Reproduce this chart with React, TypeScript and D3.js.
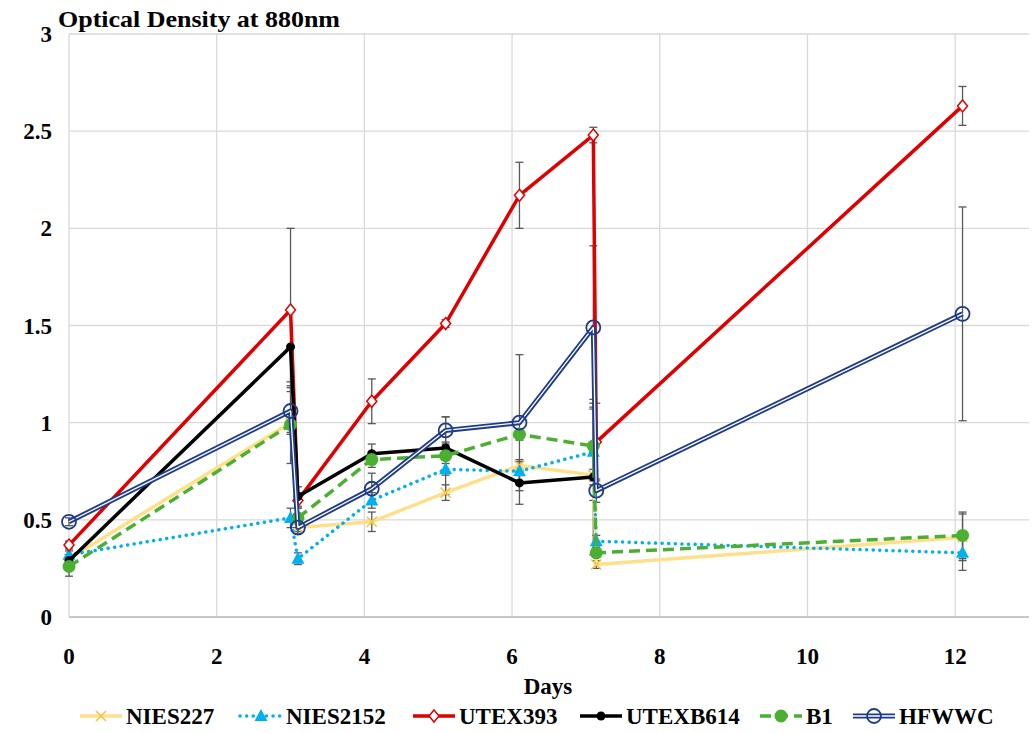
import React from "react";
import * as d3 from "d3";

const days = [0, 3, 3.1, 4.1, 5.1, 6.1, 7.1, 7.14, 12.1];

const nies227 = [0.3, 1.0, 0.46, 0.49, 0.64, 0.78, 0.73, 0.27, 0.41];
const nies227Err = [0.02, 0.05, 0.02, 0.05, 0.04, 0.03, 0.03, 0.02, 0.12];
const nies2152 = [0.32, 0.51, 0.3, 0.6, 0.76, 0.75, 0.85, 0.39, 0.33];
const nies2152Err = [0.02, 0.05, 0.03, 0.04, 0.03, 0.05, 0.25, 0.03, 0.09];
const utex393 = [0.37, 1.58, 0.6, 1.11, 1.51, 2.17, 2.48, 0.9, 2.63];
const utex393Err = [0.02, 0.42, 0.04, 0.115, 0.02, 0.17, 0.04, 0.2, 0.1];
const utexb614 = [0.29, 1.39, 0.62, 0.84, 0.87, 0.69, 0.72];
const utexb614Err = [0.02, 0.18, 0.05, 0.05, 0.03, 0.11, 0.4];
const b1 = [0.26, 0.99, 0.51, 0.81, 0.83, 0.94, 0.88, 0.33, 0.42];
const b1Err = [0.05, 0.2, 0.05, 0.04, 0.2, 0.03, 0.2, 0.04, 0.12];
const hfwwc = [0.49, 1.06, 0.46, 0.66, 0.96, 1.0, 1.49, 0.65, 1.56];
const hfwwcErr = [0.02, 0.12, 0.03, 0.08, 0.07, 0.35, 0.42, 0.06, 0.55];

const xTicks = [0, 2, 4, 6, 8, 10, 12];
const yTicks = [0, 0.5, 1, 1.5, 2, 2.5, 3];

type Series = {
  name: string;
  values: number[];
  err: number[];
  color: string;
  width: number;
  dash?: string;
  marker: "x" | "tri" | "diamond" | "dot" | "circle" | "ring";
  double?: boolean;
};

const series: Series[] = [
  { name: "NIES227", values: nies227, err: nies227Err, color: "#FFE08A", width: 3.5, marker: "x" },
  { name: "NIES2152", values: nies2152, err: nies2152Err, color: "#00B0F0", width: 3.5, dash: "0.1 6.5", marker: "tri" },
  { name: "UTEX393", values: utex393, err: utex393Err, color: "#E00000", width: 3.5, marker: "diamond" },
  { name: "UTEXB614", values: utexb614, err: utexb614Err, color: "#000000", width: 3.5, marker: "dot" },
  { name: "B1", values: b1, err: b1Err, color: "#4BAF32", width: 3.5, dash: "11 6", marker: "circle" },
  { name: "HFWWC", values: hfwwc, err: hfwwcErr, color: "#1F3C88", width: 5, marker: "ring", double: true },
];

const W = 1035;
const H = 733;
const x = d3.scaleLinear().domain([0, 13]).range([69, 1029]);
const y = d3.scaleLinear().domain([0, 3]).range([617, 34]);
const font = "'Liberation Serif', 'Times New Roman', serif";

function Marker({ s, cx, cy }: { s: Series; cx: number; cy: number }) {
  switch (s.marker) {
    case "x":
      return (
        <g stroke="#F5C242" strokeWidth={1.5}>
          <line x1={cx - 5} y1={cy - 5} x2={cx + 5} y2={cy + 5} />
          <line x1={cx - 5} y1={cy + 5} x2={cx + 5} y2={cy - 5} />
        </g>
      );
    case "tri":
      return <path d={`M${cx},${cy - 7}L${cx + 6.5},${cy + 5}L${cx - 6.5},${cy + 5}Z`} fill={s.color} />;
    case "diamond":
      return (
        <path
          d={`M${cx},${cy - 6}L${cx + 5},${cy}L${cx},${cy + 6}L${cx - 5},${cy}Z`}
          fill="#fff"
          stroke={s.color}
          strokeWidth={1.5}
        />
      );
    case "dot":
      return <circle cx={cx} cy={cy} r={4.5} fill={s.color} />;
    case "circle":
      return <circle cx={cx} cy={cy} r={6.5} fill={s.color} />;
    case "ring":
      return <circle cx={cx} cy={cy} r={7} fill="none" stroke={s.color} strokeWidth={1.8} />;
  }
}

function SeriesLine({ s, pts }: { s: Series; pts: [number, number][] }) {
  const line = d3.line();
  const d = line(pts) || "";
  if (s.double) {
    return (
      <g fill="none" strokeLinejoin="round">
        <path d={d} stroke={s.color} strokeWidth={s.width} />
        <path d={d} stroke="#fff" strokeWidth={1.3} />
      </g>
    );
  }
  return (
    <path
      d={d}
      fill="none"
      stroke={s.color}
      strokeWidth={s.width}
      strokeDasharray={s.dash}
      strokeLinecap={s.dash && s.dash.startsWith("0.1") ? "round" : "butt"}
      strokeLinejoin="round"
    />
  );
}

export default function App() {
  const legendX = [80, 240, 413, 580, 760, 853];
  return (
    <svg width={W} height={H} style={{ position: "absolute", left: 0, top: 0, background: "#fff" }}>
      {/* grid */}
      {yTicks.map((t) => (
        <line key={"gy" + t} x1={x(0)} x2={x(13)} y1={y(t)} y2={y(t)} stroke="#D9D9D9" strokeWidth={1.3} />
      ))}
      {xTicks.map((t) => (
        <line key={"gx" + t} x1={x(t)} x2={x(t)} y1={y(0)} y2={y(3)} stroke="#D9D9D9" strokeWidth={1.3} />
      ))}
      <line x1={x(0)} x2={x(13)} y1={y(0)} y2={y(0)} stroke="#BFBFBF" strokeWidth={1.3} />

      {/* tick labels */}
      {yTicks.map((t) => (
        <text key={"ty" + t} x={52} y={y(t) + 8} textAnchor="end" fontFamily={font} fontWeight="bold" fontSize={23}>
          {t}
        </text>
      ))}
      {xTicks.map((t) => (
        <text key={"tx" + t} x={x(t)} y={664} textAnchor="middle" fontFamily={font} fontWeight="bold" fontSize={23}>
          {t}
        </text>
      ))}
      <text x={58} y={27} fontFamily={font} fontWeight="bold" fontSize={24} textLength={282} lengthAdjust="spacingAndGlyphs">
        Optical Density at 880nm
      </text>
      <text x={548} y={694} textAnchor="middle" fontFamily={font} fontWeight="bold" fontSize={23}>
        Days
      </text>

      {/* error bars */}
      {series.map((s) =>
        s.values.map((v, i) => (
          <g key={s.name + "e" + i} stroke="#595959" strokeWidth={1.3}>
            <line x1={x(days[i])} x2={x(days[i])} y1={y(v + s.err[i])} y2={y(v - s.err[i])} />
            <line x1={x(days[i]) - 4} x2={x(days[i]) + 4} y1={y(v + s.err[i])} y2={y(v + s.err[i])} />
            <line x1={x(days[i]) - 4} x2={x(days[i]) + 4} y1={y(v - s.err[i])} y2={y(v - s.err[i])} />
          </g>
        ))
      )}

      {/* lines and markers */}
      {series.map((s) => {
        const pts = s.values.map((v, i) => [x(days[i]), y(v)] as [number, number]);
        return (
          <g key={s.name}>
            <SeriesLine s={s} pts={pts} />
            {pts.map((p, i) => (
              <Marker key={i} s={s} cx={p[0]} cy={p[1]} />
            ))}
          </g>
        );
      })}

      {/* legend */}
      {series.map((s, i) => {
        const lx = legendX[i];
        const ly = 716;
        return (
          <g key={"lg" + s.name}>
            <SeriesLine s={s} pts={[[lx, ly], [lx + 42, ly]]} />
            <Marker s={s} cx={lx + 21} cy={ly} />
            <text x={lx + 46} y={ly + 8} fontFamily={font} fontWeight="bold" fontSize={23}>
              {s.name}
            </text>
          </g>
        );
      })}
    </svg>
  );
}
